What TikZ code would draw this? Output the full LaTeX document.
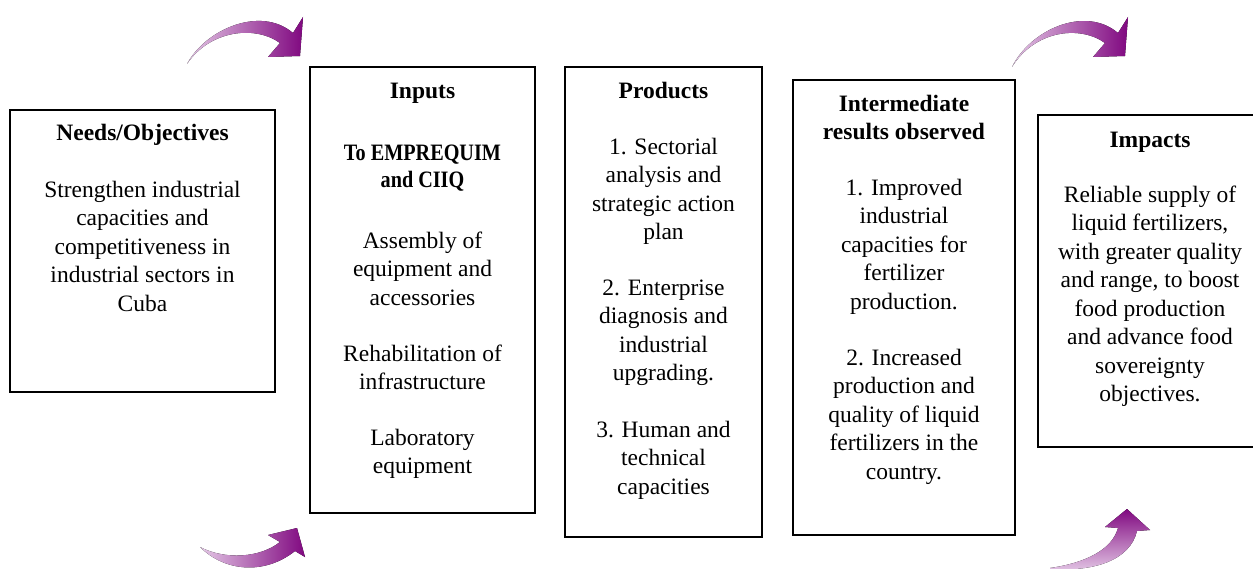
\documentclass[tikz,border=0pt]{standalone}
\usepackage{fontspec}
\setmainfont{Liberation Serif}
\definecolor{plumlight}{RGB}{228,200,230}
\definecolor{plumdark}{RGB}{128,8,128}
\begin{document}
\begin{tikzpicture}[x=1pt,y=-1pt,
  box/.style={draw=black, line width=1.4pt, fill=white, inner sep=0pt},
  txt/.style={font=\fontsize{23.5}{28.5}\selectfont, align=center, inner sep=0pt, anchor=north},
  hd/.style={txt, font=\fontsize{23.5}{28.5}\selectfont\bfseries},
  arrh/.style={left color=plumlight, right color=plumdark},
  arrv/.style={bottom color=plumlight, top color=plumdark}]
\useasboundingbox (0,0) rectangle (1253,569);

% curved arrows
\fill[arrh] (187,64) .. controls (205,30) and (260,5) .. (293,33)
  -- (303,17) -- (300,56) -- (268,57) -- (280,43)
  .. controls (255,25) and (210,30) .. (187,64) -- cycle;
\fill[arrh] (1012,67) .. controls (1030,30) and (1085,5) .. (1118,33)
  -- (1128,17) -- (1125,56) -- (1093,57) -- (1105,43)
  .. controls (1080,25) and (1035,30) .. (1012,67) -- cycle;
\fill[arrh] (200,547) .. controls (225,560) and (260,558) .. (280,542)
  -- (268,535) -- (297,528) -- (305,557) -- (295,551)
  .. controls (265,575) and (225,572) .. (200,547) -- cycle;
\fill[arrv] (1050,568) .. controls (1085,563) and (1112,550) .. (1118,528)
  -- (1105,527) -- (1127,509) -- (1150,530) -- (1137,531)
  .. controls (1130,560) and (1095,572) .. (1050,569) -- cycle;

% boxes
\node[box, minimum width=265pt, minimum height=282pt] (b1) at (142.5,251) {};
\node[box, minimum width=225pt, minimum height=446pt] (b2) at (422.5,290) {};
\node[box, minimum width=197pt, minimum height=470pt] (b3) at (663.5,302) {};
\node[box, minimum width=222pt, minimum height=455pt] (b4) at (904,307.5) {};
\node[box, minimum width=224pt, minimum height=332pt] (b5) at (1150,281) {};

% box 1
\node[hd] (t1) at (142.5,120) {\strut Needs/Objectives};
\node[txt] (p11) at (142.5,177) {\strut Strengthen industrial\\capacities and\\competitiveness in\\industrial sectors in\\Cuba};

% box 2
\node[hd] (t2) at (422.5,78) {\strut Inputs};
\node[hd, font=\fontsize{23.5}{27}\selectfont\bfseries\addfontfeature{FakeStretch=0.86}] (p21) at (422.5,141) {\strut To EMPREQUIM\\and CIIQ};
\node[txt] (p22) at (422.5,228) {\strut Assembly of\\equipment and\\accessories};
\node[txt] (p23) at (422.5,341) {\strut Rehabilitation of\\infrastructure};
\node[txt] (p24) at (422.5,425) {\strut Laboratory\\equipment};

% box 3
\node[hd] (t3) at (663.5,78) {\strut Products};
\node[txt] (p31) at (663.5,134) {\strut 1. Sectorial\\analysis and\\strategic action\\plan};
\node[txt] (p32) at (663.5,275) {\strut 2. Enterprise\\diagnosis and\\industrial\\upgrading.};
\node[txt] (p33) at (663.5,417) {\strut 3. Human and\\technical\\capacities};

% box 4
\node[hd] (t4) at (904,91) {\strut Intermediate\\results observed};
\node[txt] (p41) at (904,175) {\strut 1. Improved\\industrial\\capacities for\\fertilizer\\production.};
\node[txt] (p42) at (904,345) {\strut 2. Increased\\production and\\quality of liquid\\fertilizers in the\\country.};

% box 5
\node[hd] (t5) at (1150,127) {\strut Impacts};
\node[txt] (p51) at (1150,182) {\strut Reliable supply of\\liquid fertilizers,\\with greater quality\\and range, to boost\\food production\\and advance food\\sovereignty\\objectives.};
\end{tikzpicture}
\end{document}
